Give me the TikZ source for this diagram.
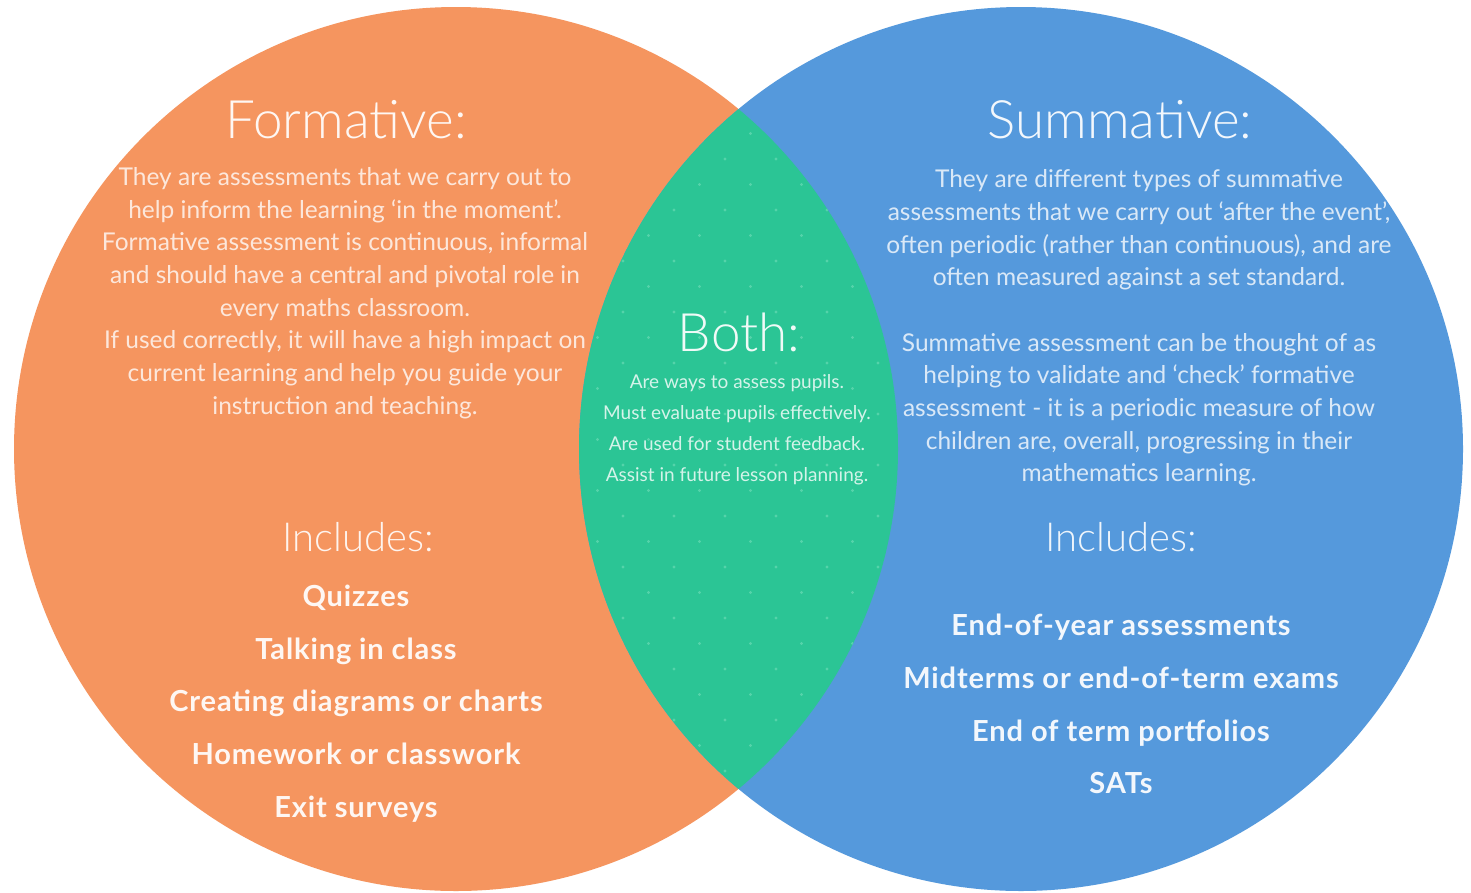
\documentclass[tikz,border=0pt]{standalone}
\usepackage{fontspec}
\setmainfont{Lato}
\newfontfamily\lightfont{Lato Light}
\newfontfamily\listfont{Lato}[LetterSpace=3]
\definecolor{formorange}{HTML}{F5955F}
\definecolor{sumblue}{HTML}{5599DC}
\definecolor{bothgreen}{HTML}{2BC595}
\definecolor{dotgreen}{HTML}{55D3AA}
\tikzset{
  heading/.style={text=white, text opacity=0.93, inner sep=0pt,
    font=\lightfont\fontsize{53}{60}\selectfont},
  subhead/.style={text=white, text opacity=0.9, inner sep=0pt,
    font=\lightfont\fontsize{40}{46}\selectfont},
  bodytext/.style={text=white, text opacity=0.78, inner sep=0pt, align=center,
    font=\fontsize{24.5}{32.7}\selectfont},
  bothtext/.style={text=white, text opacity=0.8, inner sep=0pt, align=center,
    font=\fontsize{19}{31}\selectfont},
  itemlist/.style={text=white, text opacity=0.93, inner sep=0pt, align=center,
    font=\listfont\bfseries\fontsize{29}{52.7}\selectfont},
}
\begin{document}
\begin{tikzpicture}[x=1pt,y=-1pt]
\useasboundingbox (0,0) rectangle (1471,892);
\fill[white] (0,0) rectangle (1471,892);

% the two sets
\fill[formorange] (456,449) circle[radius=442];
\fill[sumblue] (1021,449) circle[radius=442];

% overlap lens with its dotted texture
\begin{scope}
  \clip (456,449) circle[radius=442];
  \fill[bothgreen] (1021,449) circle[radius=442];
  \clip (1021,449) circle[radius=442];
  \foreach \i in {-2,...,11}{
    \foreach \j in {-20,-18,...,6}{
      \fill[dotgreen] ({623+25.5*\i},{618+25.5*(\j+mod(\i,2))}) circle[radius=1.6];
    }
  }
\end{scope}

% left set: formative
\node[heading] (formhead) at (346,120) {Formative:};
\node[bodytext] (formbody) at (345,293) {They are assessments that we carry out to\\
help inform the learning `in the moment'.\\
Formative assessment is continuous, informal\\
and should have a central and pivotal role in\\
every maths classroom.\\
If used correctly, it will have a high impact on\\
current learning and help you guide your\\
instruction and teaching.};
\node[subhead] (forminc) at (358,537) {Includes:};
\node[itemlist] (formlist) at (356,703.5) {Quizzes\\
Talking in class\\
Creating diagrams or charts\\
Homework or classwork\\
Exit surveys};

% overlap: both
\node[heading] (bothhead) at (739,332) {Both:};
\node[bothtext] (bothbody) at (737,430) {Are ways to assess pupils.\\
Must evaluate pupils effectively.\\
Are used for student feedback.\\
Assist in future lesson planning.};

% right set: summative
\node[heading] (sumhead) at (1120,120) {Summative:};
\node[bodytext] (sumbody) at (1139,328) {They are different types of summative\\
assessments that we carry out `after the event',\\
often periodic (rather than continuous), and are\\
often measured against a set standard.\\[32.7pt]
Summative assessment can be thought of as\\
helping to validate and `check' formative\\
assessment - it is a periodic measure of how\\
children are, overall, progressing in their\\
mathematics learning.};
\node[subhead] (suminc) at (1121,537) {Includes:};
\node[itemlist] (sumlist) at (1121,704) {End-of-year assessments\\
Midterms or end-of-term exams\\
End of term portfolios\\
SATs};
\end{tikzpicture}
\end{document}
